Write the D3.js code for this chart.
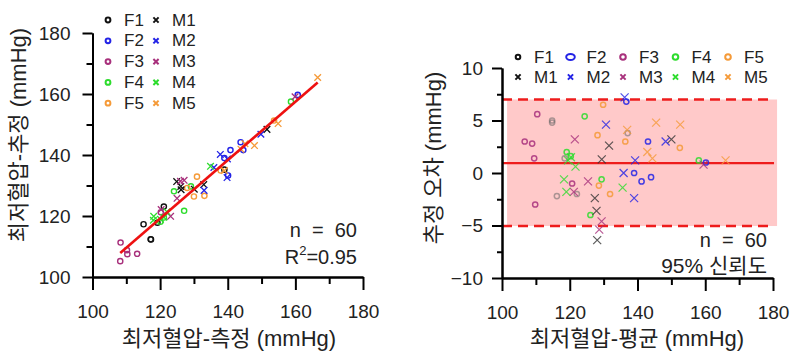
<!DOCTYPE html>
<html><head><meta charset="utf-8">
<script src="https://cdn.jsdelivr.net/npm/d3@7"></script>
<style>
body{margin:0;background:#fff}
svg{display:block}
text{font-family:"Liberation Sans","Noto Sans CJK KR",sans-serif;fill:#222}
</style>
</head><body>
<svg id="c" width="800" height="361"></svg>
<script>
// ---------------- DATA ----------------
const groups = ["F1","F2","F3","F4","F5","M1","M2","M3","M4","M5"];
const groupColors = ["#111111","#2323e6","#a8307c","#2ddc2d","#f59a38",
                     "#111111","#2323e6","#a8307c","#2ddc2d","#f59a38"];
// measured (x of left chart) and estimated (y of left chart) diastolic BP, mmHg
const measF1 = [117.3,117.2,139.0,119.2,121.1,115.1];
const estF1  = [112.3,112.4,135.2,117.8,123.1,117.3];
const measF2 = [140.1,144.6,160.7,139.0,140.8,143.8];
const estF2  = [133.3,141.6,159.7,139.0,141.6,144.2];
const measF3 = [113.2,108.2,110.3,110.2,120.2,108.3];
const estF3  = [107.6,105.2,107.5,108.8,121.2,111.3];
const measF4 = [127.1,120.1,121.1,158.7,129.1,124.1];
const estF4  = [121.7,118.1,119.5,157.5,129.7,128.1];
const measF5 = [133.1,130.0,137.9,153.7,128.0,130.9];
const estF5  = [126.6,126.4,134.9,151.3,129.2,132.9];
const measM1 = [132.9,151.6,130.1,126.2,126.1,124.9];
const estM1  = [130.3,148.4,128.8,128.6,129.7,131.3];
const measM2 = [139.8,133.0,149.8,139.9,135.9,137.8];
const estM2  = [132.6,128.4,146.8,138.7,135.9,140.2];
const measM3 = [123.1,159.9,125.0,120.3,127.1,126.0];
const estM3  = [119.9,159.1,125.8,122.1,131.7,131.4];
const measM4 = [120.1,122.0,134.9,118.0,118.1,121.1];
const estM4  = [118.9,121.4,136.3,118.6,119.9,119.6];
const measM5 = [139.0,147.9,154.9,143.9,145.1,166.6];
const estM5  = [134.9,143.1,150.3,141.9,143.7,165.4];

const xTicks = [100,120,140,160,180];
const xMinorTicks = [110,130,150,170];
const yTicksLeft = [100,120,140,160,180];
const yMinorLeft = [110,130,150,170];
const yTicksRight = [-10,-5,0,5,10];
const yMinorRight = [-7.5,-2.5,2.5,7.5];

const fitSlope = 0.957, fitIntercept = 4.35;   // regression line (read)
const meanDiff = 0.95, upperLoA = 7.0, lowerLoA = -5.05;
const bandX = [101.5, 181.2];
const nText = "n  =  60";
const r2Text = "0.95";

const measAll = [measF1,measF2,measF3,measF4,measF5,measM1,measM2,measM3,measM4,measM5];
const estAll  = [estF1,estF2,estF3,estF4,estF5,estM1,estM2,estM3,estM4,estM5];

const rows = [];
groups.forEach((g,i)=>{
  measAll[i].forEach((m,j)=>{
    const e = estAll[i][j];
    rows.push({g, i, female: g[0]==="F", color: groupColors[i], meas:m, est:e,
               mean:(m+e)/2, diff:m-e});
  });
});

// ---------------- DRAW ----------------
const svg = d3.select("#c");
const FONT_TICK = 19;
const crossPath = s => `M${-s},${-s}L${s},${s}M${-s},${s}L${s},${-s}`;

function styleAxis(g){
  g.selectAll("path,line").attr("stroke","#000").attr("stroke-width",2);
  g.selectAll("text").attr("font-size",FONT_TICK).attr("fill","#222")
   .style("font-family","'Liberation Sans',sans-serif");
}

// ===== Left chart =====
const xL = d3.scaleLinear().domain([100,180]).range([92.5,363]);
const yL = d3.scaleLinear().domain([100,180]).range([277,33]);
const L = svg.append("g");

// markers
const lm = L.append("g");
rows.forEach(d=>{
  if(d.female){
    lm.append("circle").attr("cx",xL(d.meas)).attr("cy",yL(d.est)).attr("r",2.6)
      .attr("fill","none").attr("stroke",d.color).attr("stroke-width",1.4);
  } else {
    lm.append("path").attr("d",crossPath(3.3))
      .attr("transform",`translate(${xL(d.meas)},${yL(d.est)})`)
      .attr("stroke",d.color).attr("stroke-width",1.3).attr("fill","none");
  }
});
// regression line
const xMin = d3.min(rows,d=>d.meas), xMax = d3.max(rows,d=>d.meas);
L.append("line")
  .attr("x1",xL(xMin)).attr("y1",yL(fitIntercept+fitSlope*xMin))
  .attr("x2",xL(xMax)).attr("y2",yL(fitIntercept+fitSlope*xMax))
  .attr("stroke","#ee1111").attr("stroke-width",2.6);

// axes
L.append("g").attr("transform","translate(0,277)")
  .call(d3.axisBottom(xL).tickValues(xMinorTicks).tickSize(7).tickSizeOuter(0).tickFormat(""))
  .call(styleAxis);
L.append("g").attr("transform","translate(0,277)")
  .call(d3.axisBottom(xL).tickValues(xTicks).tickSize(13).tickSizeOuter(0).tickPadding(15).tickFormat(d3.format("d")))
  .call(styleAxis);
L.append("g").attr("transform","translate(92.5,0)")
  .call(d3.axisLeft(yL).tickValues(yMinorLeft).tickSize(6).tickSizeOuter(0).tickFormat(""))
  .call(styleAxis);
L.append("g").attr("transform","translate(92.5,0)")
  .call(d3.axisLeft(yL).tickValues(yTicksLeft).tickSize(10).tickSizeOuter(0).tickPadding(12).tickFormat(d3.format("d")))
  .call(styleAxis);

// axis titles
L.append("text").attr("x",229).attr("y",338).attr("text-anchor","middle")
  .attr("dominant-baseline","central").attr("font-size",22).text("최저혈압-측정 (mmHg)");
L.append("text").attr("transform","translate(18,135) rotate(-90)").attr("text-anchor","middle")
  .attr("dominant-baseline","central").attr("font-size",22).text("최저혈압-추정 (mmHg)");

// annotations
L.append("text").attr("x",357).attr("y",230).attr("text-anchor","end")
  .attr("dominant-baseline","central").attr("font-size",20).style("white-space","pre").text(nText);
const r2 = L.append("text").attr("x",357).attr("y",257).attr("text-anchor","end")
  .attr("dominant-baseline","central").attr("font-size",20);
r2.append("tspan").text("R");
r2.append("tspan").attr("font-size",13).attr("dy",-7).text("2");
r2.append("tspan").attr("dy",7).text("="+r2Text);

// legend left
const legL = L.append("g");
groups.slice(0,5).forEach((g,i)=>{
  const y = 20 + i*20.8;
  legL.append("circle").attr("cx",108).attr("cy",y).attr("r",2.4)
    .attr("fill","none").attr("stroke",groupColors[i]).attr("stroke-width",2);
  legL.append("text").attr("x",124).attr("y",y).attr("dominant-baseline","central")
    .attr("font-size",17).text(g);
  const gm = groups[i+5];
  legL.append("path").attr("d",crossPath(2.6)).attr("transform",`translate(156,${y})`)
    .attr("stroke",groupColors[i+5]).attr("stroke-width",2).attr("fill","none");
  legL.append("text").attr("x",172).attr("y",y).attr("dominant-baseline","central")
    .attr("font-size",17).text(gm);
});

// ===== Right chart =====
const xR = d3.scaleLinear().domain([100,180]).range([502,773]);
const yR = d3.scaleLinear().domain([-10,10]).range([278,68]);
const R = svg.append("g");

R.append("rect").attr("x",xR(bandX[0])).attr("y",yR(upperLoA))
  .attr("width",xR(bandX[1])-xR(bandX[0])).attr("height",yR(lowerLoA)-yR(upperLoA))
  .attr("fill","#ffc9c9");

[upperLoA,lowerLoA].forEach(v=>{
  R.append("line").attr("x1",xR(100)).attr("x2",xR(180)).attr("y1",yR(v)).attr("y2",yR(v))
    .attr("stroke","#ee1c1c").attr("stroke-width",2.5).attr("stroke-dasharray","10,6");
});
R.append("line").attr("x1",xR(100)).attr("x2",xR(180.3)).attr("y1",yR(meanDiff)).attr("y2",yR(meanDiff))
  .attr("stroke","#ee1c1c").attr("stroke-width",2.2);

const rm = R.append("g");
rows.forEach(d=>{
  const col = d.g==="F1" ? "#666" : (d.g==="M1" ? "#333" : d.color);
  if(d.female){
    rm.append("circle").attr("cx",xR(d.mean)).attr("cy",yR(d.diff)).attr("r",2.6)
      .attr("fill","none").attr("stroke",col).attr("stroke-width",1.5)
      .attr("stroke-opacity", d.g==="F1"?0.55:0.85);
  } else {
    rm.append("path").attr("d",crossPath(4))
      .attr("transform",`translate(${xR(d.mean)},${yR(d.diff)})`)
      .attr("stroke",col).attr("stroke-width",1.2).attr("fill","none").attr("stroke-opacity",0.8);
  }
});

R.append("g").attr("transform","translate(0,278)")
  .call(d3.axisBottom(xR).tickValues(xMinorTicks).tickSize(7).tickSizeOuter(0).tickFormat(""))
  .call(styleAxis);
R.append("g").attr("transform","translate(0,278)")
  .call(d3.axisBottom(xR).tickValues(xTicks).tickSize(13).tickSizeOuter(0).tickPadding(15).tickFormat(d3.format("d")))
  .call(styleAxis);
R.append("g").attr("transform","translate(502,0)")
  .call(d3.axisLeft(yR).tickValues(yMinorRight).tickSize(5).tickSizeOuter(0).tickFormat(""))
  .call(styleAxis);
R.append("g").attr("transform","translate(502,0)")
  .call(d3.axisLeft(yR).tickValues(yTicksRight).tickSize(10).tickSizeOuter(0).tickPadding(9).tickFormat(d3.format("d")))
  .call(styleAxis);

R.append("text").attr("x",637).attr("y",338).attr("text-anchor","middle")
  .attr("dominant-baseline","central").attr("font-size",22).text("최저혈압-평균 (mmHg)");
R.append("text").attr("transform","translate(433,158) rotate(-90)").attr("text-anchor","middle")
  .attr("dominant-baseline","central").attr("font-size",22).text("추정 오차 (mmHg)");

R.append("text").attr("x",767).attr("y",240).attr("text-anchor","end")
  .attr("dominant-baseline","central").attr("font-size",20).style("white-space","pre").text(nText);
R.append("text").attr("x",767).attr("y",265).attr("text-anchor","end")
  .attr("dominant-baseline","central").attr("font-size",21).text("95% 신뢰도");

// legend right
const legR = R.append("g");
groups.slice(0,5).forEach((g,i)=>{
  const x = 518 + i*52.5;
  if(i===1){
    legR.append("ellipse").attr("cx",x).attr("cy",57).attr("rx",4.3).attr("ry",3)
      .attr("fill","none").attr("stroke",groupColors[i]).attr("stroke-width",2);
  } else {
    legR.append("circle").attr("cx",x).attr("cy",57).attr("r",i===0?2.3:2.8)
      .attr("fill","none").attr("stroke",groupColors[i]).attr("stroke-width",2);
  }
  legR.append("text").attr("x",x+16).attr("y",57).attr("dominant-baseline","central")
    .attr("font-size",17).text(g);
  legR.append("path").attr("d",crossPath(2.6)).attr("transform",`translate(${x},77)`)
    .attr("stroke",groupColors[i+5]).attr("stroke-width",2).attr("fill","none");
  legR.append("text").attr("x",x+16).attr("y",77).attr("dominant-baseline","central")
    .attr("font-size",17).text(groups[i+5]);
});
</script>
</body></html>
